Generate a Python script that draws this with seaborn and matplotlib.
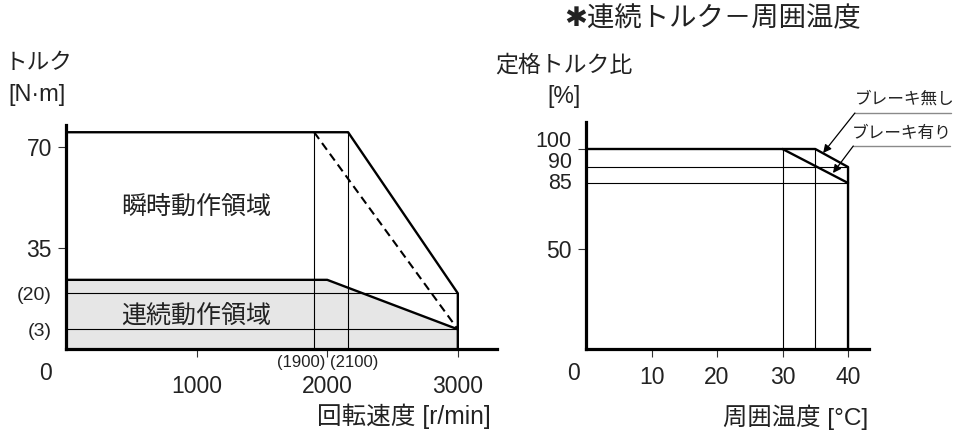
import matplotlib
matplotlib.use("Agg")
import matplotlib.pyplot as plt
import matplotlib.transforms as mtrans
import numpy as np
import seaborn as sns

# left chart: torque vs speed (values as drawn, the chart is schematic)
peak_speed = [0, 2160, 3000, 3000]
peak_torque = [75, 75, 19.35, 0]
dash_speed = [1900, 3000]
dash_torque = [75, 6.9]
cont_speed = [0, 2000, 3000]
cont_torque = [24, 24, 6.9]
guide_speeds = [1900, 2160]
guide_torques = [19.35, 6.9]
speed_ticks = [1000, 2000, 3000]
torque_ticks = [6.9, 19.35, 35, 70]
torque_labels = ["(3)", "(20)", "35", "70"]
speed_marks = [("(1900)", 1803), ("(2100)", 2203)]

# right chart: rated torque ratio vs ambient temperature
nobrake_temp = [0, 35, 40, 40]
nobrake_ratio = [100, 100, 91, 0]
brake_temp = [30, 40]
brake_ratio = [100, 83]
guide_temps = [30, 35]
guide_ratios = [91, 83]
temp_ticks = [10, 20, 30, 40]
ratio_labels = [("100", 103.5), ("90", 93), ("85", 82.5)]

sns.set_style("ticks")
plt.rcParams["font.family"] = ["Liberation Sans", "Noto Sans CJK JP", "DejaVu Sans"]
TXT = "#222222"
plt.rcParams["text.color"] = TXT
plt.rcParams["xtick.color"] = "#333333"
plt.rcParams["ytick.color"] = "#333333"
plt.rcParams["xtick.labelcolor"] = TXT
plt.rcParams["ytick.labelcolor"] = TXT

W, H = 958, 436
fig = plt.figure(figsize=(W / 100, H / 100), dpi=100)
ax1 = fig.add_axes([66 / W, 1 - 349.3 / H, (497 - 66) / W, (349.3 - 125) / H])
ax2 = fig.add_axes([586 / W, 1 - 349 / H, (869 - 586) / W, (349 - 122) / H])

THICK, THIN = 1.7, 0.8

for ax in (ax1, ax2):
    sns.despine(ax=ax)
    for s in ("left", "bottom"):
        ax.spines[s].set_linewidth(2.3)
        ax.spines[s].set_color("black")
    ax.tick_params(length=5.8, width=0.8, labelsize=16.5, pad=4.3)

# ---- left
ax1.fill_between(cont_speed, cont_torque, color="#e6e6e6", lw=0, zorder=1)
ax1.hlines(guide_torques, 0, 3000, color="black", lw=THIN, zorder=2)
ax1.vlines(guide_speeds, 0, peak_torque[0], color="black", lw=THIN, zorder=2)
sns.lineplot(x=peak_speed, y=peak_torque, sort=False, estimator=None,
             color="black", lw=THICK, ax=ax1, zorder=3)
sns.lineplot(x=cont_speed, y=cont_torque, sort=False, estimator=None,
             color="black", lw=THICK, ax=ax1, zorder=3)
ax1.plot(dash_speed, dash_torque, color="black", lw=1.5, dashes=(4, 2.4), zorder=3)

ax1.set_xlim(0, 3300)
ax1.set_ylim(0, 77.5)
ax1.set_xticks(speed_ticks)
ax1.set_yticks(torque_ticks)
ax1.set_yticklabels(torque_labels)
for i, t in enumerate(ax1.yaxis.get_major_ticks()):
    if i < 2:
        t.tick1line.set_visible(False)
        t.label1.set_fontsize(14)
ax1.tick_params(axis="x", pad=13)

blend1 = mtrans.blended_transform_factory(ax1.transData, ax1.transAxes)
for lab, x in speed_marks:
    ax1.text(x, -0.058, lab, transform=blend1, ha="center", va="center",
             fontsize=12)
ax1.text(1000, 49.2, "瞬時動作領域", ha="center", va="center", fontsize=18)
ax1.text(1000, 11.5, "連続動作領域", ha="center", va="center", fontsize=18)
ax1.annotate("0", xy=(0, 0), xytext=(-21, -24), textcoords="offset pixels",
             ha="center", va="center", fontsize=16.5)

# ---- right
ax2.hlines(guide_ratios, 0, 40, color="black", lw=THIN, zorder=2)
ax2.vlines(guide_temps, 0, 100, color="black", lw=THIN, zorder=2)
sns.lineplot(x=nobrake_temp, y=nobrake_ratio, sort=False, estimator=None,
             color="black", lw=THICK, ax=ax2, zorder=3)
sns.lineplot(x=brake_temp, y=brake_ratio, sort=False, estimator=None,
             color="black", lw=THICK, ax=ax2, zorder=3)

ax2.set_xlim(0, 43.2)
ax2.set_ylim(0, 113.5)
ax2.set_xticks(temp_ticks)
ax2.set_yticks([50, 100])
ax2.set_yticklabels(["50", ""])
ax2.tick_params(axis="x", pad=6.5)
blend2 = mtrans.blended_transform_factory(ax2.transAxes, ax2.transData)
for lab, y in ratio_labels:
    ax2.text(-0.05, y, lab, transform=blend2, ha="right", va="center",
             fontsize=15.5)
ax2.annotate("0", xy=(0, 0), xytext=(-13, -24), textcoords="offset pixels",
             ha="center", va="center", fontsize=16.5)

# leader notes
notes = [("ブレーキ無し", 41.05, 55.7, 118, 36.2, 98, 48.7, 125),
         ("ブレーキ有り", 40.8, 55.6, 101.5, 37.7, 88, 48.2, 108)]
for lab, x0, x1, yl, xt, yt, xs, ys in notes:
    ax2.plot([x0, x1], [yl, yl], color="#8a8a8a", lw=1.0, clip_on=False)
    ax2.annotate("", xy=(xt, yt), xytext=(x0, yl), annotation_clip=False,
                 arrowprops=dict(arrowstyle="-|>", color="black", lw=0.9,
                                 mutation_scale=12, shrinkA=0, shrinkB=0))
    ax2.text(xs, ys, lab, ha="center", va="center", fontsize=12, clip_on=False)

# axis titles and headline
fig.text(5 / W, 1 - 63 / H, "トルク", ha="left", va="center", fontsize=16.3)
fig.text(37 / W, 1 - 95 / H, "[N·m]", ha="center", va="center", fontsize=17)
fig.text(491 / W, 1 - 416 / H, "回転速度 [r/min]", ha="right", va="center", fontsize=17.7)
fig.text(495 / W, 1 - 65 / H, "定格トルク比", ha="left", va="center", fontsize=16.5)
fig.text(564 / W, 1 - 96 / H, "[%]", ha="center", va="center", fontsize=16.5)
fig.text(713 / W, 1 - 19 / H, "✱連続トルク－周囲温度", ha="center", va="center",
         fontsize=19.7)
fig.text(868 / W, 1 - 417 / H, "周囲温度 [°C]", ha="right", va="center", fontsize=17.6)

fig.savefig("out.png", dpi=100)
